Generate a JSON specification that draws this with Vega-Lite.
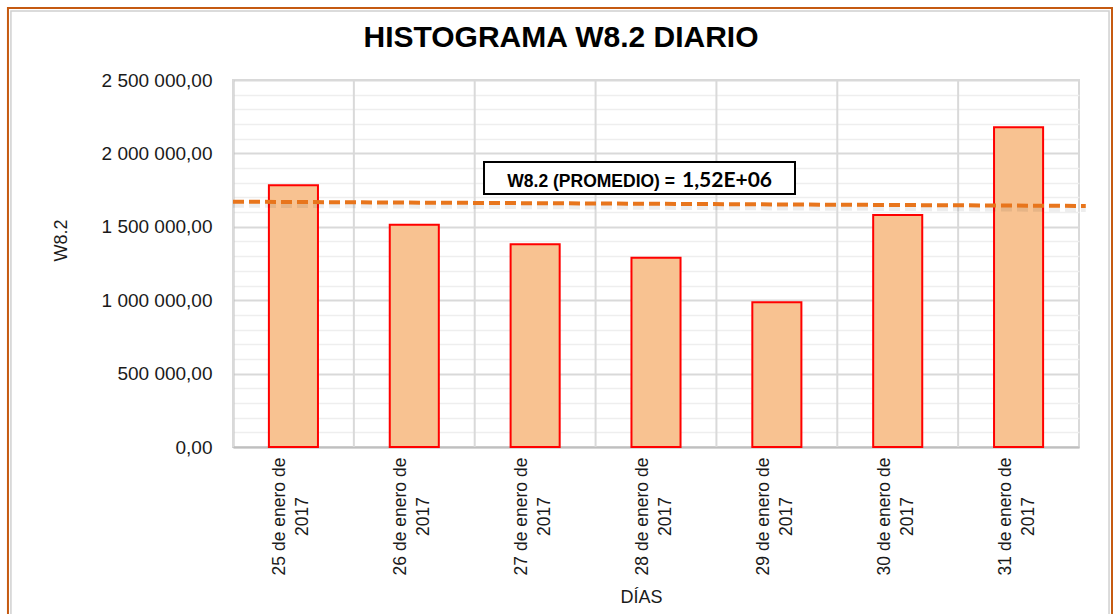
{
  "$schema": "https://vega.github.io/schema/vega-lite/v6.json",
  "width": 846,
  "height": 367,
  "autosize": {"type": "none"},
  "padding": {"left": 233, "top": 80, "right": 35, "bottom": 167},
  "background": "white",
  "config": {
    "view": {"stroke": "#d9d9d9", "strokeWidth": 2},
    "font": "Liberation Sans",
    "locale": {"number": {"decimal": ",", "thousands": " ", "grouping": [3], "currency": ["", ""]}}
  },
  "title": {
    "text": "HISTOGRAMA  W8.2 DIARIO",
    "font": "Liberation Sans",
    "fontSize": 30,
    "fontWeight": "bold",
    "color": "#000000",
    "anchor": "middle",
    "frame": "group",
    "dx": -95,
    "baseline": "alphabetic",
    "offset": -70
  },
  "resolve": {"scale": {"x": "independent", "y": "independent"}},
  "layer": [
    {
      "data": {"values": [
        {"day": "25 de enero de 2017", "w": 1783000},
        {"day": "26 de enero de 2017", "w": 1514000},
        {"day": "27 de enero de 2017", "w": 1381000},
        {"day": "28 de enero de 2017", "w": 1290000},
        {"day": "29 de enero de 2017", "w": 986000},
        {"day": "30 de enero de 2017", "w": 1580000},
        {"day": "31 de enero de 2017", "w": 2178000}
      ]},
      "layer": [
        {
          "mark": {"type": "rule", "color": "#d9d9d9", "strokeWidth": 2},
          "encoding": {
            "x": {"field": "day", "type": "nominal", "bandPosition": 0, "scale": {"paddingInner": 0, "paddingOuter": 0}}
          }
        },
        {
          "mark": {"type": "bar", "width": {"band": 0.406}, "fill": "#f8c291", "stroke": "#ff0000", "strokeWidth": 2},
          "encoding": {
            "x": {
              "field": "day", "type": "nominal", "sort": null,
              "scale": {"paddingInner": 0, "paddingOuter": 0},
              "axis": {
                "title": "DÍAS",
                "titleFont": "Liberation Sans",
                "titleFontSize": 18,
                "titleFontWeight": "normal",
                "titleColor": "#1a1a1a",
                "titleX": 408,
                "titleY": 150,
                "titleBaseline": "middle",
                "grid": false,
                "ticks": false,
                "domainColor": "#bfbfbf",
                "domainWidth": 2,
                "labelAngle": -90,
                "labelAlign": "center",
                "labelBaseline": "middle",
                "labelPadding": 69,
                "labelLineHeight": 23,
                "labelOffset": -13,
                "labelFontSize": 17.5,
                "labelColor": "#1a1a1a",
                "labelExpr": "[slice(datum.label, 0, -5), slice(datum.label, -4)]"
              }
            },
            "y": {
              "field": "w", "type": "quantitative",
              "scale": {"domain": [0, 2500000], "nice": false},
              "axis": {
                "title": "W8.2",
                "titleFont": "Liberation Sans",
                "titleFontSize": 18,
                "titleFontWeight": "normal",
                "titleColor": "#1a1a1a",
                "titleX": -172,
                "titleY": 160,
                "titleBaseline": "middle",
                "titleAngle": -90,
                "values": [0,100000,200000,300000,400000,500000,600000,700000,800000,900000,1000000,1100000,1200000,1300000,1400000,1500000,1600000,1700000,1800000,1900000,2000000,2100000,2200000,2300000,2400000,2500000],
                "format": ",.2f",
                "labelExpr": "datum.value % 500000 === 0 ? datum.label : ''",
                "labelFontSize": 19,
                "labelColor": "#1a1a1a",
                "labelPadding": 21,
                "ticks": false,
                "domainColor": "#bfbfbf",
                "domainWidth": 2,
                "grid": true,
                "gridColor": {"condition": {"test": "datum.value % 500000 === 0", "value": "#d9d9d9"}, "value": "#eeeeee"},
                "gridWidth": {"condition": {"test": "datum.value % 500000 === 0", "value": 2}, "value": 1.5}
              }
            }
          }
        }
      ]
    },
    {
      "layer": [
        {
          "data": {"values": [
            {"x0": -0.266, "x1": 1.039, "y0": 2990463, "y1": -1180000}
          ]},
          "mark": {"type": "rect", "fill": null, "stroke": "#c55a11", "strokeWidth": 2},
          "encoding": {
            "x": {"field": "x0", "type": "quantitative", "scale": {"domain": [0, 1], "nice": false, "zero": false}, "axis": null},
            "x2": {"field": "x1"},
            "y": {"field": "y0", "type": "quantitative", "scale": {"domain": [0, 2500000], "nice": false}, "axis": null},
            "y2": {"field": "y1"}
          }
        },
        {
          "data": {"values": [
            {"x0": -0.2625, "x1": 1.0355, "y0": 2970000, "y1": -1180000}
          ]},
          "mark": {"type": "rect", "fill": null, "stroke": "#d0d0d0", "strokeWidth": 1.5},
          "encoding": {
            "x": {"field": "x0", "type": "quantitative", "scale": {"domain": [0, 1], "nice": false, "zero": false}, "axis": null},
            "x2": {"field": "x1"},
            "y": {"field": "y0", "type": "quantitative", "scale": {"domain": [0, 2500000], "nice": false}, "axis": null},
            "y2": {"field": "y1"}
          }
        },
        {
          "data": {"values": [
            {"t": 0, "v": 1671000},
            {"t": 1.008, "v": 1642000}
          ]},
          "mark": {"type": "line", "color": "#000000", "opacity": 0.07, "strokeWidth": 6, "yOffset": 3, "strokeDash": [11, 5]},
          "encoding": {
            "x": {"field": "t", "type": "quantitative", "scale": {"domain": [0, 1], "nice": false, "zero": false}, "axis": null},
            "y": {"field": "v", "type": "quantitative", "scale": {"domain": [0, 2500000], "nice": false}, "axis": null}
          }
        },
        {
          "data": {"values": [
            {"t": 0, "v": 1671000},
            {"t": 1.008, "v": 1642000}
          ]},
          "mark": {"type": "line", "color": "#e8751c", "strokeWidth": 4, "strokeDash": [11, 5]},
          "encoding": {
            "x": {"field": "t", "type": "quantitative", "scale": {"domain": [0, 1], "nice": false, "zero": false}, "axis": null},
            "y": {"field": "v", "type": "quantitative", "scale": {"domain": [0, 2500000], "nice": false}, "axis": null}
          }
        },
        {
          "data": {"values": [
            {"x0": 0.2967, "x1": 0.6643, "y0": 1941417, "y1": 1723433}
          ]},
          "mark": {"type": "rect", "fill": "#ffffff", "stroke": "#000000", "strokeWidth": 2},
          "encoding": {
            "x": {"field": "x0", "type": "quantitative", "scale": {"domain": [0, 1], "nice": false, "zero": false}, "axis": null},
            "x2": {"field": "x1"},
            "y": {"field": "y0", "type": "quantitative", "scale": {"domain": [0, 2500000], "nice": false}, "axis": null},
            "y2": {"field": "y1"}
          }
        },
        {
          "data": {"values": [
            {"t": 0.5225, "v": 1773000, "label": "W8.2 (PROMEDIO) = "}
          ]},
          "mark": {"type": "text", "align": "right", "baseline": "alphabetic", "font": "Liberation Sans", "fontWeight": "bold", "fontSize": 17.5, "color": "#000000"},
          "encoding": {
            "x": {"field": "t", "type": "quantitative", "scale": {"domain": [0, 1], "nice": false, "zero": false}, "axis": null},
            "y": {"field": "v", "type": "quantitative", "scale": {"domain": [0, 2500000], "nice": false}, "axis": null},
            "text": {"field": "label"}
          }
        },
        {
          "data": {"values": [
            {"t": 0.5307, "v": 1773000, "label": "1,52E+06"}
          ]},
          "mark": {"type": "text", "align": "left", "baseline": "alphabetic", "font": "Lato", "fontWeight": "bold", "fontSize": 21, "color": "#000000"},
          "encoding": {
            "x": {"field": "t", "type": "quantitative", "scale": {"domain": [0, 1], "nice": false, "zero": false}, "axis": null},
            "y": {"field": "v", "type": "quantitative", "scale": {"domain": [0, 2500000], "nice": false}, "axis": null},
            "text": {"field": "label"}
          }
        }
      ]
    }
  ]
}
